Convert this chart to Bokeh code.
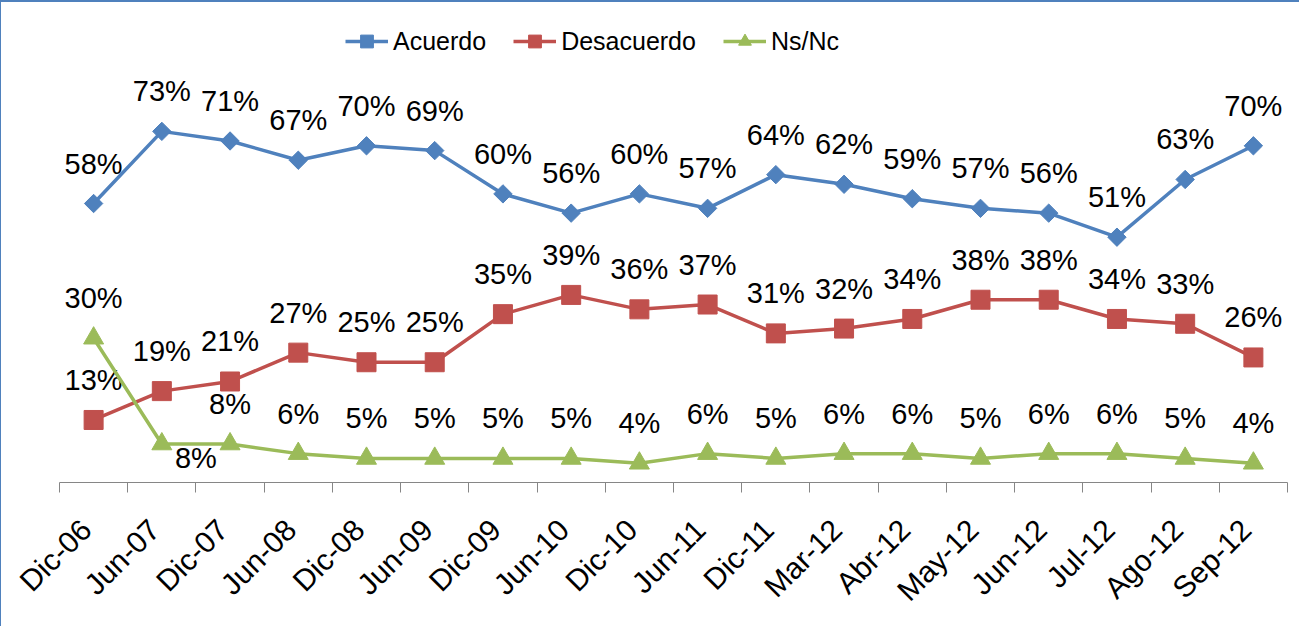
from math import pi
from bokeh.plotting import figure
from bokeh.models import Range1d, FixedTicker, ColumnDataSource, Legend, LegendItem
from bokeh.embed import file_html
from bokeh.resources import INLINE
from bokeh.core.properties import value

categories = ["Dic-06", "Jun-07", "Dic-07", "Jun-08", "Dic-08", "Jun-09", "Dic-09",
              "Jun-10", "Dic-10", "Jun-11", "Dic-11", "Mar-12", "Abr-12", "May-12",
              "Jun-12", "Jul-12", "Ago-12", "Sep-12"]
acuerdo = [58, 73, 71, 67, 70, 69, 60, 56, 60, 57, 64, 62, 59, 57, 56, 51, 63, 70]
desacuerdo = [13, 19, 21, 27, 25, 25, 35, 39, 36, 37, 31, 32, 34, 38, 38, 34, 33, 26]
nsnc = [30, 8, 8, 6, 5, 5, 5, 5, 4, 6, 5, 6, 6, 5, 6, 6, 5, 4]

FONT = "Liberation Sans"
C_AC = "#4F81BD"
C_DE = "#C0504D"
C_NS = "#9BBB59"

n = len(categories)
xs = [i + 0.5 for i in range(n)]

p = figure(width=1299, height=626, output_backend="svg", toolbar_location=None,
           x_range=Range1d(0, n), y_range=Range1d(0, 479 / 4.8))
p.min_border_top = 0
p.min_border_left = 58
p.min_border_right = 13
p.min_border_bottom = 146
p.outline_line_color = None
p.xgrid.visible = False
p.ygrid.visible = False
p.yaxis.visible = False
p.styles = {"border-top": "2px solid #4F81BD", "border-left": "1px solid #4F81BD"}

shift = -0.109375
tick_pos = [i + 0.5 + shift for i in range(n)]
ax = p.xaxis[0]
ax.ticker = FixedTicker(ticks=tick_pos, minor_ticks=list(range(n + 1)))
ax.major_label_overrides = {t: c for t, c in zip(tick_pos, categories)}
ax.major_tick_out = 0
ax.major_tick_in = 0
ax.minor_tick_out = 10
ax.minor_tick_in = 0
ax.minor_tick_line_color = "#868686"
ax.axis_line_color = "#868686"
ax.axis_line_width = 1
ax.major_label_orientation = pi / 4
ax.major_label_standoff = 32
ax.major_label_text_font = FONT
ax.major_label_text_font_size = "30px"
ax.major_label_text_color = "black"

items = []
series = [("Acuerdo", acuerdo, C_AC), ("Desacuerdo", desacuerdo, C_DE), ("Ns/Nc", nsnc, C_NS)]
for name, vals, col in series:
    src = ColumnDataSource(dict(x=xs, y=vals))
    lr = p.line("x", "y", source=src, line_color=col, line_width=3.5)
    if name == "Acuerdo":
        mr = p.scatter("x", "y", source=src, marker="square", angle=pi / 4, size=13,
                       fill_color=col, line_color=col)
    elif name == "Desacuerdo":
        mr = p.scatter("x", "y", source=src, marker="square", size=19,
                       fill_color=col, line_color=col)
    else:
        mr = p.scatter("x", "y", source=src, marker="triangle", size=20,
                       fill_color=col, line_color=col)
    items.append(LegendItem(label=name, renderers=[lr, mr]))

    xo = [0] * n
    yo = [-40] * n
    if name == "Ns/Nc":
        xo[1] = 34
        yo[1] = 14
    lsrc = ColumnDataSource(dict(x=xs, y=vals, t=[f"{v}%" for v in vals], xo=xo, yo=yo))
    p.text("x", "y", text="t", source=lsrc, x_offset="xo", y_offset="yo",
           text_align="center", text_baseline="middle",
           text_font=value(FONT), text_font_size="29px", text_color="black")

legend = Legend(items=items, orientation="horizontal", location=(286, 425),
                padding=0, margin=0, spacing=27, label_standoff=5,
                glyph_width=43, glyph_height=32, label_height=20,
                label_text_font=FONT, label_text_font_size="25px",
                label_text_color="black", border_line_color=None,
                background_fill_alpha=0)
p.add_layout(legend)

open("out.html", "w").write(file_html(p, INLINE))
